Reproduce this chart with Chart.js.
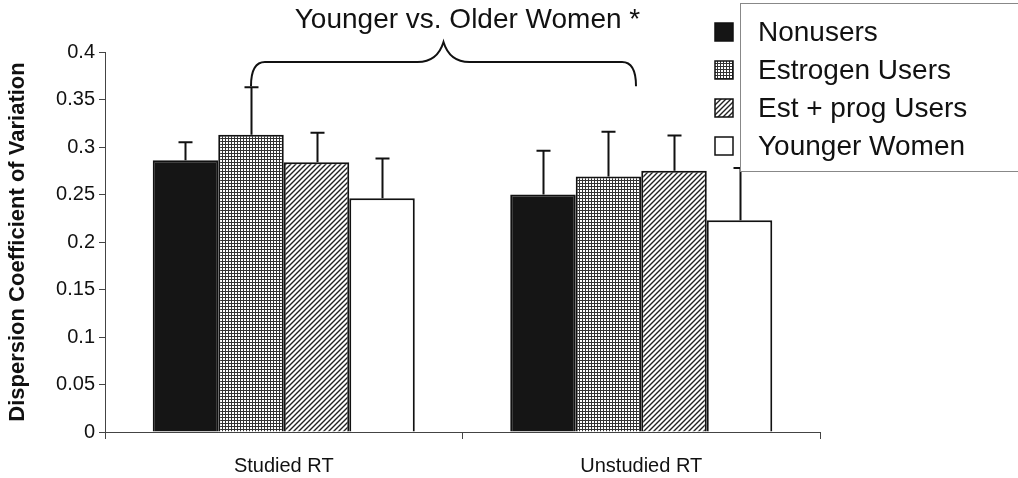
<!DOCTYPE html>
<html>
<head>
<meta charset="utf-8">
<script src="https://cdn.jsdelivr.net/npm/chart.js@4/dist/chart.umd.min.js"></script>
<style>
html,body{margin:0;padding:0;background:#fff;}
#wrap{width:1018px;height:478px;position:relative;}
</style>
</head>
<body>
<div id="wrap"><canvas id="c" width="1018" height="478"></canvas></div>
<script>
// ---- data ----
const categories = ['Studied RT', 'Unstudied RT'];
const seriesNames = ['Nonusers', 'Estrogen Users', 'Est + prog Users', 'Younger Women'];
const nonusers = [0.286, 0.250];
const estrogenUsers = [0.313, 0.269];
const estProgUsers = [0.284, 0.275];
const youngerWomen = [0.246, 0.223];
const nonusersErr = [0.019, 0.046];
const estrogenErr = [0.050, 0.047];
const estProgErr = [0.031, 0.037];
const youngerErr = [0.042, 0.055];
const yTickLabels = ['0', '0.05', '0.1', '0.15', '0.2', '0.25', '0.3', '0.35', '0.4'];
const yTitle = 'Dispersion Coefficient of Variation';
const bracketLabel = 'Younger vs. Older Women *';

// ---- patterns ----
function gridPattern() {
  const t = document.createElement('canvas');
  t.width = 3; t.height = 3;
  const g = t.getContext('2d');
  g.fillStyle = '#fff'; g.fillRect(0, 0, 3, 3);
  g.fillStyle = '#333';
  g.fillRect(0, 0, 3, 1);
  g.fillRect(0, 0, 1, 3);
  return g.createPattern(t, 'repeat');
}
function hatchPattern() {
  const s = 5;
  const t = document.createElement('canvas');
  t.width = s; t.height = s;
  const g = t.getContext('2d');
  g.fillStyle = '#fff'; g.fillRect(0, 0, s, s);
  g.strokeStyle = '#222'; g.lineWidth = 1.4;
  g.beginPath();
  g.moveTo(-1, s + 1); g.lineTo(s + 1, -1);
  g.moveTo(-1, 1); g.lineTo(1, -1);
  g.moveTo(s - 1, s + 1); g.lineTo(s + 1, s - 1);
  g.stroke();
  return g.createPattern(t, 'repeat');
}
const fills = ['#151515', gridPattern(), hatchPattern(), '#ffffff'];
const values = [nonusers, estrogenUsers, estProgUsers, youngerWomen];
const errors = [nonusersErr, estrogenErr, estProgErr, youngerErr];

const FONT = "'Liberation Sans', Arial, Helvetica, sans-serif";

const extras = {
  id: 'extras',
  afterDatasetsDraw(chart) {
    const ctx = chart.ctx;
    const y = chart.scales.y;
    ctx.save();
    // error bars
    ctx.strokeStyle = '#111';
    ctx.lineWidth = 2;
    values.forEach((vals, di) => {
      const meta = chart.getDatasetMeta(di);
      vals.forEach((v, i) => {
        const bar = meta.data[i];
        const x = Math.round(bar.x) + 0.5;
        const y0 = y.getPixelForValue(v);
        const y1 = y.getPixelForValue(v + errors[di][i]);
        ctx.beginPath();
        ctx.moveTo(x, y0); ctx.lineTo(x, y1);
        ctx.moveTo(x - 7, y1); ctx.lineTo(x + 7, y1);
        ctx.stroke();
      });
    });
    // brace
    const b1 = chart.getDatasetMeta(1).data[0];
    const b2 = chart.getDatasetMeta(1).data[1];
    const bw = b1.width;
    const lx = b1.x;
    const rx = b2.x + bw * 0.42;
    const lowY = y.getPixelForValue(estrogenUsers[0] + estrogenErr[0]) - 1;
    const midY = 62, topY = 42;
    const mx = (lx + rx) / 2;
    ctx.lineWidth = 2;
    ctx.beginPath();
    ctx.moveTo(lx, lowY);
    ctx.quadraticCurveTo(lx, midY, lx + 14, midY);
    ctx.lineTo(mx - 26, midY);
    ctx.quadraticCurveTo(mx - 6, midY, mx, topY);
    ctx.quadraticCurveTo(mx + 6, midY, mx + 26, midY);
    ctx.lineTo(rx - 14, midY);
    ctx.quadraticCurveTo(rx, midY, rx, lowY);
    ctx.stroke();
    // bracket label
    ctx.fillStyle = '#111';
    ctx.font = '28px ' + FONT;
    ctx.textAlign = 'center';
    ctx.textBaseline = 'alphabetic';
    ctx.fillText(bracketLabel, mx + 24, 28);
    // legend box
    ctx.fillStyle = '#fff';
    ctx.fillRect(740, 3, 290, 169);
    ctx.strokeStyle = '#888';
    ctx.lineWidth = 1;
    ctx.strokeRect(740.5, 3.5, 290, 168);
    // legend entries
    const rows = [32, 70, 108, 146];
    ctx.textAlign = 'left';
    ctx.textBaseline = 'middle';
    ctx.font = '28px ' + FONT;
    seriesNames.forEach((name, i) => {
      const cy = rows[i];
      ctx.fillStyle = fills[i];
      ctx.fillRect(715, cy - 9, 18, 18);
      ctx.strokeStyle = '#111';
      ctx.lineWidth = 1.5;
      ctx.strokeRect(715, cy - 9, 18, 18);
      ctx.fillStyle = '#111';
      ctx.fillText(name, 758, cy + 1);
    });
    ctx.restore();
  }
};

new Chart(document.getElementById('c'), {
  type: 'bar',
  data: {
    labels: categories,
    datasets: seriesNames.map((n, i) => ({
      label: n,
      data: values[i],
      backgroundColor: fills[i],
      borderColor: '#111',
      borderWidth: 2,
      borderSkipped: 'bottom',
      barPercentage: 1,
      categoryPercentage: 0.733
    }))
  },
  options: {
    responsive: false,
    animation: false,
    devicePixelRatio: 1,
    layout: { padding: { top: 52, right: 198, left: 0, bottom: 0 } },
    plugins: { legend: { display: false }, tooltip: { enabled: false }, title: { display: false } },
    scales: {
      x: {
        offset: true,
        grid: { display: true, drawOnChartArea: false, drawTicks: true, tickLength: 7, color: '#444', lineWidth: 1 },
        border: { display: true, color: '#444', width: 1 },
        ticks: { color: '#111', font: { family: FONT, size: 20 }, padding: 15 },
        afterFit(s) { s.height = 46; }
      },
      y: {
        min: 0, max: 0.4,
        ticks: {
          stepSize: 0.05,
          color: '#111',
          font: { family: FONT, size: 20 },
          padding: 4,
          callback: (v, i) => yTickLabels[i]
        },
        grid: { display: true, drawOnChartArea: false, drawTicks: true, tickLength: 6, color: '#444', lineWidth: 1 },
        border: { display: true, color: '#444', width: 1 },
        title: { display: true, text: yTitle, color: '#111', font: { family: FONT, size: 22, weight: 'bold' }, padding: { top: 5, bottom: 0 } },
        afterFit(s) { s.width = 105; }
      }
    }
  },
  plugins: [extras]
});
</script>
</body>
</html>
